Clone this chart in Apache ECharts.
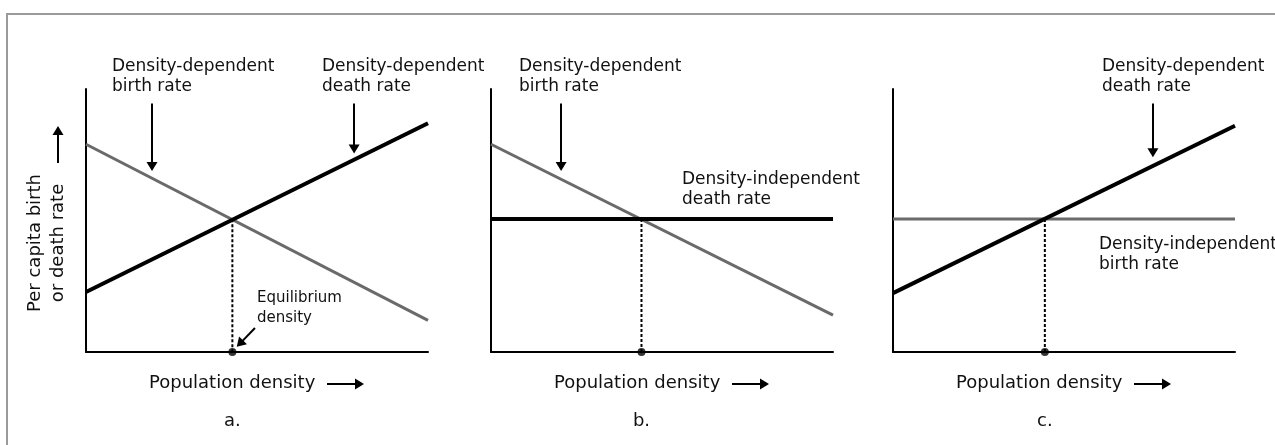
<!DOCTYPE html>
<html>
<head>
<meta charset="utf-8">
<script src="https://cdn.jsdelivr.net/npm/echarts@6/dist/echarts.min.js"></script>
<style>html,body{margin:0;padding:0;background:#fff}#chart{width:1275px;height:445px}</style>
</head>
<body>
<div id="chart"></div>
<script>
// every panel: x runs 0..10, y runs 0..10 (no units, schematic)
var xEnds = [0, 10];

// panel a: both rates density dependent
var birthA = [7.9, 1.2];
var deathA = [2.28, 8.7];
var eqA = [4.28, 5.05];

// panel b: density-dependent birth, density-independent death
var birthB = [7.9, 1.4];
var deathB = [5.06, 5.06];
var eqB = [4.4, 5.06];

// panel c: density-independent birth, density-dependent death
var birthC = [5.06, 5.06];
var deathC = [2.24, 8.6];
var eqC = [4.44, 5.06];

// pointer arrows, [x1, y1, x2, y2] in data units
var arrowsA = [[1.93, 9.45, 1.93, 7.05], [7.84, 9.45, 7.84, 7.72], [4.94, 0.91, 4.5, 0.32]];
var arrowsB = [[2.05, 9.45, 2.05, 7.05]];
var arrowsC = [[7.6, 9.45, 7.6, 7.58]];

var GREY = '#6a6a6a';
var FONT = '"DejaVu Sans", Verdana, sans-serif';

var gridLefts = [86, 491, 893];

function panel(i, birth, death, eq, arrows) {
    var list = [];
    list.push({
        type: 'line', xAxisIndex: i, yAxisIndex: i, symbol: 'none', z: 3,
        data: [[xEnds[0], birth[0]], [xEnds[1], birth[1]]],
        lineStyle: {color: GREY, width: 3}
    });
    list.push({
        type: 'line', xAxisIndex: i, yAxisIndex: i, symbol: 'none', z: 4,
        data: [[xEnds[0], death[0]], [xEnds[1], death[1]]],
        lineStyle: {color: '#000', width: 4}
    });
    list.push({
        type: 'line', xAxisIndex: i, yAxisIndex: i, symbol: 'none', z: 2,
        data: [[eq[0], eq[1]], [eq[0], 0]],
        lineStyle: {color: '#000', width: 2, type: [3, 2]},
        markLine: {
            silent: true,
            symbol: ['none', 'triangle'],
            symbolSize: [11, 9],
            label: {show: false},
            lineStyle: {color: '#000', width: 2, type: 'solid'},
            data: arrows.map(function (a) {
                return [{coord: [a[0], a[1]]}, {coord: [a[2], a[3]]}];
            })
        }
    });
    list.push({
        type: 'scatter', xAxisIndex: i, yAxisIndex: i, z: 5,
        symbolSize: 8, itemStyle: {color: '#000'},
        data: [[eq[0], 0]]
    });
    return list;
}

function txt(x, y, s, size, align) {
    return {
        type: 'text', x: x, y: y, z: 10,
        style: {
            text: s, fill: '#111', font: size + 'px ' + FONT, lineHeight: 20,
            textAlign: align || 'left', textVerticalAlign: 'top'
        }
    };
}

function arrowRight(x1, x2, y) {
    return [
        {type: 'line', shape: {x1: x1, y1: y, x2: x2 - 6, y2: y}, style: {stroke: '#000', lineWidth: 2}},
        {type: 'polygon', shape: {points: [[x2, y], [x2 - 9, y - 5.5], [x2 - 9, y + 5.5]]}, style: {fill: '#000'}}
    ];
}

var graphics = [
    {type: 'rect', shape: {x: 7, y: 14, width: 1300, height: 500}, style: {fill: 'none', stroke: '#9a9a9a', lineWidth: 2}},
    txt(112, 57, 'Density-dependent\nbirth rate', 17),
    txt(322, 57, 'Density-dependent\ndeath rate', 17),
    txt(257, 288, 'Equilibrium\ndensity', 15),
    txt(519, 57, 'Density-dependent\nbirth rate', 17),
    txt(682, 170, 'Density-independent\ndeath rate', 17),
    txt(1102, 57, 'Density-dependent\ndeath rate', 17),
    txt(1099, 235, 'Density-independent\nbirth rate', 17),
    {
        type: 'text', x: 47, y: 243, rotation: Math.PI / 2, z: 10,
        style: {
            text: 'Per capita birth\nor death rate', fill: '#111', font: '18px ' + FONT,
            lineHeight: 23, textAlign: 'center', textVerticalAlign: 'middle'
        }
    },
    {type: 'line', shape: {x1: 58, y1: 163, x2: 58, y2: 132}, style: {stroke: '#000', lineWidth: 2}},
    {type: 'polygon', shape: {points: [[58, 126], [52.5, 135], [63.5, 135]]}, style: {fill: '#000'}}
];

var panelNames = ['a.', 'b.', 'c.'];
var eqs = [eqA, eqB, eqC];
gridLefts.forEach(function (l, i) {
    graphics.push(txt(l + 63, 373, 'Population density', 18));
    arrowRight(l + 241, l + 278, 384).forEach(function (g) { graphics.push(g); });
    graphics.push(txt(l + eqs[i][0] * 34.2, 411, panelNames[i], 18, 'center'));
});

var axisLine = {show: true, onZero: false, lineStyle: {color: '#000', width: 2}};

var option = {
    animation: false,
    textStyle: {fontFamily: FONT},
    grid: gridLefts.map(function (l) {
        return {left: l, top: 89, width: 342, height: 263};
    }),
    xAxis: gridLefts.map(function (l, i) {
        return {type: 'value', gridIndex: i, min: 0, max: 10, axisLine: axisLine,
            axisTick: {show: false}, axisLabel: {show: false}, splitLine: {show: false}};
    }),
    yAxis: gridLefts.map(function (l, i) {
        return {type: 'value', gridIndex: i, min: 0, max: 10, axisLine: axisLine,
            axisTick: {show: false}, axisLabel: {show: false}, splitLine: {show: false}};
    }),
    series: [].concat(
        panel(0, birthA, deathA, eqA, arrowsA),
        panel(1, birthB, deathB, eqB, arrowsB),
        panel(2, birthC, deathC, eqC, arrowsC)
    ),
    graphic: graphics
};

var chart = echarts.init(document.getElementById('chart'));
chart.setOption(option);
</script>
</body>
</html>
